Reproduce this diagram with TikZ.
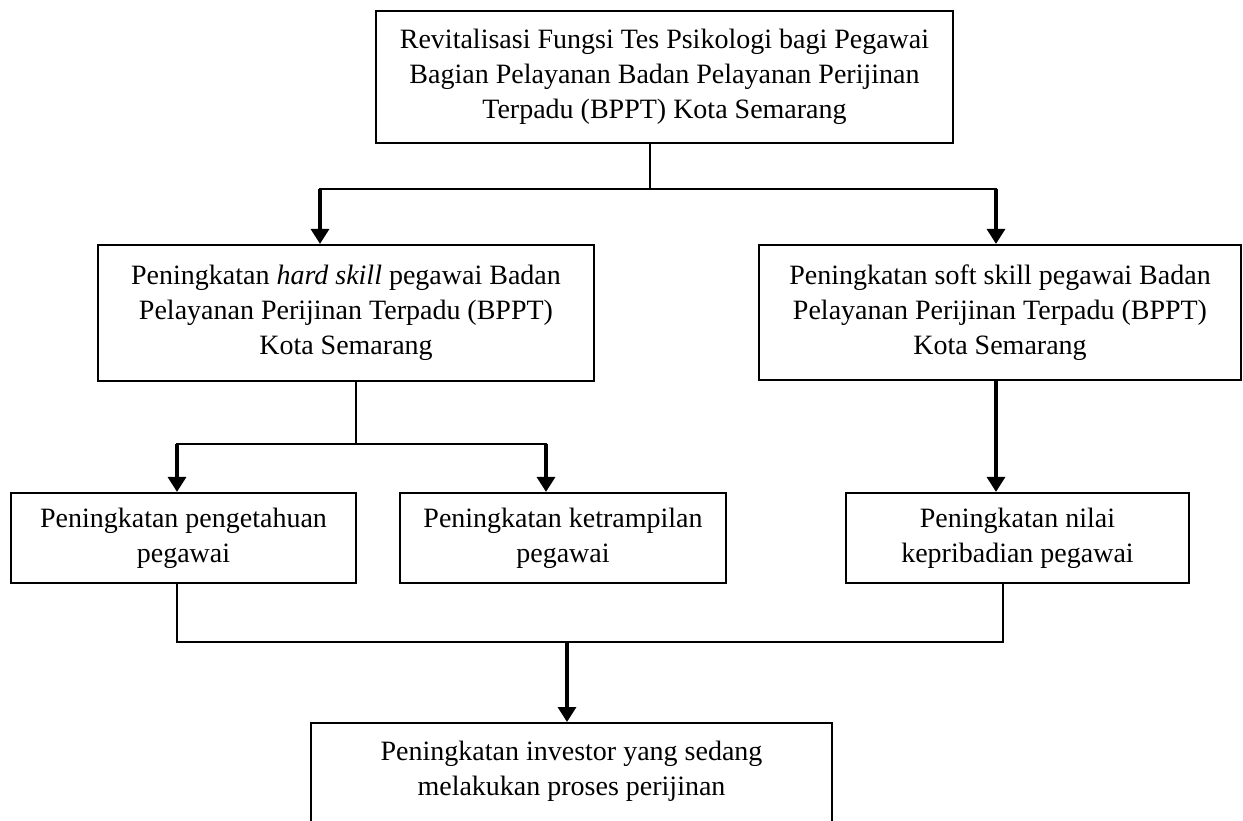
\documentclass[tikz,border=0pt]{standalone}
\usepackage{fontspec}
\setmainfont{Liberation Serif}
\usetikzlibrary{arrows.meta,positioning}

\begin{document}
\begin{tikzpicture}[x=0.5pt,y=-0.5pt,
    kotak/.style={rectangle, draw, line width=1.1pt, align=center, inner sep=0pt,
        font=\fontsize{14}{17.5}\selectfont},
    garis/.style={line width=1.1pt, line cap=rect},
    panah/.style={line width=1.7pt, -{Triangle[width=9pt,length=7.5pt]}}]
    \useasboundingbox (0,0) rectangle (1243,820);
    \clip (0,0) rectangle (1243,820);

    % Top box
    \node[kotak, minimum width=288.5pt, minimum height=66pt] (revit) at (664.5,77) {
        Revitalisasi Fungsi Tes Psikologi bagi Pegawai\\
        Bagian Pelayanan Badan Pelayanan Perijinan\\
        Terpadu (BPPT) Kota Semarang};

    % Second row
    \node[kotak, minimum width=248pt, minimum height=68pt] (hard) at (346,313) {
        Peningkatan \textit{hard skill} pegawai Badan\\
        Pelayanan Perijinan Terpadu (BPPT)\\
        Kota Semarang};
    \node[kotak, minimum width=241pt, minimum height=67.5pt] (soft) at (1000,312.5) {
        Peningkatan soft skill pegawai Badan\\
        Pelayanan Perijinan Terpadu (BPPT)\\
        Kota Semarang};

    % Third row
    \node[kotak, minimum width=172.5pt, minimum height=45pt] (tahu) at (183.5,538) {
        Peningkatan pengetahuan\\
        pegawai};
    \node[kotak, minimum width=163pt, minimum height=45pt] (trampil) at (563,538) {
        Peningkatan ketrampilan\\
        pegawai};
    \node[kotak, minimum width=171.5pt, minimum height=45pt] (nilai) at (1017.5,538) {
        Peningkatan nilai\\
        kepribadian pegawai};

    % Bottom box (cut by the page edge)
    \node[kotak, minimum width=260.5pt, minimum height=63pt, anchor=north] (investor) at (571.5,722) {
        Peningkatan investor yang sedang\\
        melakukan proses perijinan\\
        ~};

    % Junctions
    \coordinate (j1) at (650,189);
    \coordinate (j1L) at (320,189);
    \coordinate (j1R) at (996,189);
    \coordinate (j2) at (356,444);
    \coordinate (j2L) at (177,444);
    \coordinate (j2R) at (546,444);
    \coordinate (j3L) at (177,642);
    \coordinate (j3R) at (1003,642);
    \coordinate (j3) at (567,642);

    % Connectors
    \draw[garis] (revit.south -| j1) -- (j1);
    \draw[garis] (j1L) -- (j1R);
    \draw[panah] (j1L) -- (j1L |- hard.north);
    \draw[panah] (j1R) -- (j1R |- soft.north);

    \draw[garis] (hard.south -| j2) -- (j2);
    \draw[garis] (j2L) -- (j2R);
    \draw[panah] (j2L) -- (j2L |- tahu.north);
    \draw[panah] (j2R) -- (j2R |- trampil.north);
    \draw[panah] (soft.south -| j1R) -- (nilai.north -| j1R);

    \draw[garis] (tahu.south -| j3L) -- (j3L) -- (j3R) -- (nilai.south -| j3R);
    \draw[panah] (j3) -- (j3 |- investor.north);
\end{tikzpicture}
\end{document}
